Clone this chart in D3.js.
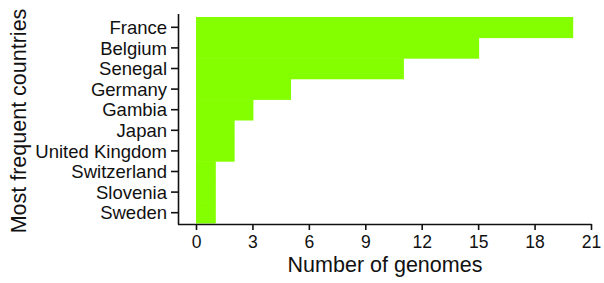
<!DOCTYPE html>
<html>
<head>
<meta charset="utf-8">
<script src="https://cdn.jsdelivr.net/npm/d3@7"></script>
<style>
  body { margin: 0; background: #fff; }
  svg { display: block; font-family: "Liberation Sans", Arial, sans-serif; }
  .axis path, .axis line { stroke: #111; stroke-width: 1.6; }
  .axis text { fill: #111; }
</style>
</head>
<body>
<svg id="chart" width="604" height="283"></svg>
<script>
// countries, most frequent first
const countries = ["France", "Belgium", "Senegal", "Germany", "Gambia", "Japan",
    "United Kingdom", "Switzerland", "Slovenia", "Sweden"];
const genomes = [20, 15, 11, 5, 3, 2, 2, 1, 1, 1];
const xTicks = [0, 3, 6, 9, 12, 15, 18, 21];

const svg = d3.select("#chart");

const x = d3.scaleLinear()
    .domain([0, 21])
    .range([196, 591]);

const y = d3.scaleBand()
    .domain(countries)
    .range([17, 223])
    .padding(0);

// bars
svg.selectAll(".bar")
    .data(countries.map((c, i) => [c, genomes[i]]))
    .enter().append("rect")
    .attr("class", "bar")
    .attr("x", x(0))
    .attr("y", d => y(d[0]))
    .attr("width", d => x(d[1]) - x(0) + 1)
    .attr("height", y.bandwidth() + 0.5)
    .attr("fill", "#84ff00");

// x axis
const gx = svg.append("g")
    .attr("class", "axis")
    .attr("transform", "translate(0,224)")
    .call(d3.axisBottom(x).tickValues(xTicks).tickSize(6).tickSizeOuter(0));
gx.select(".domain").attr("d", "M178,0.5H591.5");
gx.selectAll("text").attr("dy", 0).attr("y", 24).style("font-size", "17.5px");

// y axis
const gy = svg.append("g")
    .attr("class", "axis")
    .attr("transform", "translate(178,0)")
    .call(d3.axisLeft(y).tickSize(7).tickSizeOuter(0));
gy.select(".domain").attr("d", "M0.5,14V224.5");
gy.selectAll("text").attr("x", -11).attr("dy", "0.36em").style("font-size", "18.5px");

// axis titles
svg.append("text")
    .attr("x", 385)
    .attr("y", 272)
    .attr("text-anchor", "middle")
    .style("font-size", "21.5px")
    .attr("fill", "#111")
    .text("Number of genomes");

svg.append("text")
    .attr("transform", "translate(26,121) rotate(-90)")
    .attr("text-anchor", "middle")
    .style("font-size", "21.5px")
    .attr("fill", "#111")
    .text("Most frequent countries");
</script>
</body>
</html>
